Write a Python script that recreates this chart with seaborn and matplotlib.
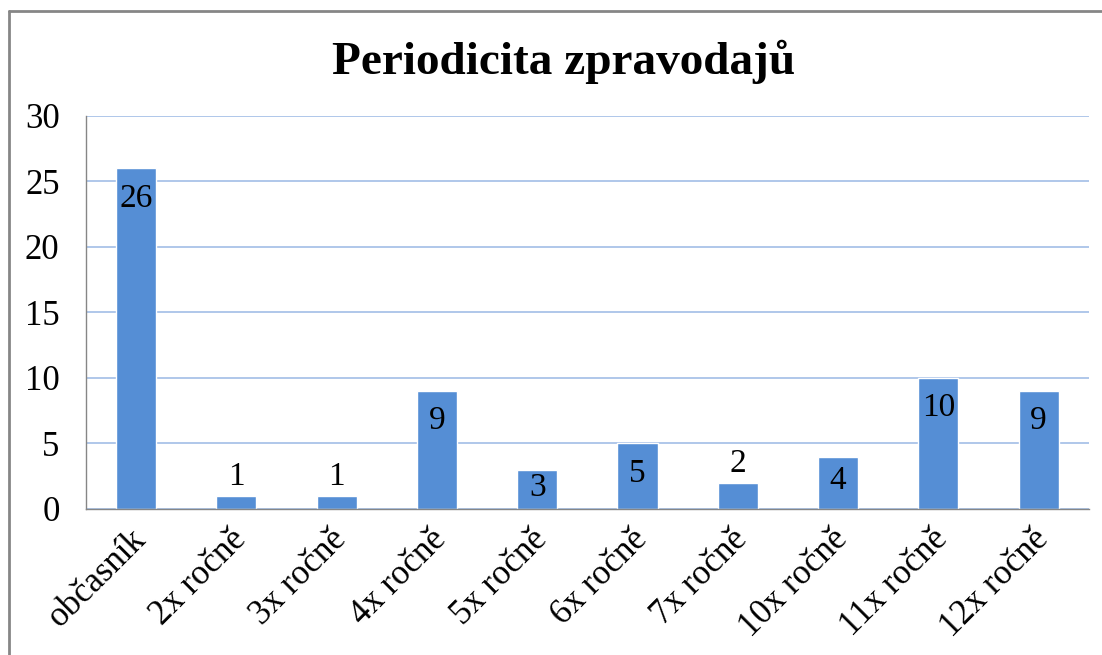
import numpy as np
import pandas as pd
import seaborn as sns
import matplotlib.pyplot as plt
from matplotlib.lines import Line2D

# data
categories = ['občasník', '2x ročně', '3x ročně', '4x ročně', '5x ročně',
              '6x ročně', '7x ročně', '10x ročně', '11x ročně', '12x ročně']
counts = [26, 1, 1, 9, 3, 5, 2, 4, 10, 9]

data = pd.DataFrame({'kategorie': categories, 'pocet': counts})

sns.set_style('white')
plt.rcParams['font.family'] = ['Liberation Serif', 'DejaVu Serif']
plt.rcParams['text.color'] = 'black'

fig = plt.figure(figsize=(11.02, 6.55), dpi=100)
ax = fig.add_axes([0.078, 0.223, 0.910, 0.600])

sns.barplot(data=data, x='kategorie', y='pocet', color='#558ED5',
            saturation=1, width=0.4, ax=ax)

ax.set_ylim(0, 30)
ax.set_xlim(-0.5, len(categories) - 0.5)
ax.set_yticks(range(0, 31, 5))
ax.yaxis.grid(True, color='#A9C3E8', linewidth=1.3)
ax.set_axisbelow(True)
ax.set_xlabel('')
ax.set_ylabel('')

for s in ['top', 'right']:
    ax.spines[s].set_visible(False)
for s in ['left', 'bottom']:
    ax.spines[s].set_color('#868686')
    ax.spines[s].set_linewidth(1)

# tick marks between categories
ax.set_xticks(np.arange(-0.5, len(categories), 1), minor=True)
ax.tick_params(axis='x', which='minor', length=8, color='#868686', direction='out')
ax.tick_params(axis='x', which='major', length=0, pad=10)
ax.tick_params(axis='y', length=8, color='#868686', direction='out', pad=11)
ax.tick_params(labelsize=25, labelcolor='black')
plt.setp(ax.get_xticklabels(), rotation=45, ha='right', rotation_mode='anchor')
for t in ax.get_xticklabels():
    t.set_x(t.get_position()[0])
    t.set_transform(t.get_transform() + plt.matplotlib.transforms.ScaledTranslation(-5 / 72, 0, fig.dpi_scale_trans))

# value labels - inside top of bar, or above if the bar is too short
fig.canvas.draw()
for i, v in enumerate(counts):
    h_px = ax.transData.transform((0, v))[1] - ax.transData.transform((0, 0))[1]
    if v >= 3:
        off = -min(30, h_px / 2 - 2) * 0.72
    else:
        off = 19 * 0.72
    ax.annotate(str(v), (i, v), xytext=(0, off), textcoords='offset points',
                ha='center', va='center', fontsize=24, color='black')

fig.suptitle('Periodicita zpravodajů', fontsize=34, fontweight='bold',
             color='black', x=0.511, y=0.94)

# chart frame (top and left edges visible)
fig.lines.append(Line2D([0.008, 1.0], [0.983, 0.983], transform=fig.transFigure,
                        color='#868686', linewidth=2))
fig.lines.append(Line2D([0.008, 0.008], [0.0, 0.983], transform=fig.transFigure,
                        color='#868686', linewidth=2))

plt.savefig('out.png', dpi=100)
